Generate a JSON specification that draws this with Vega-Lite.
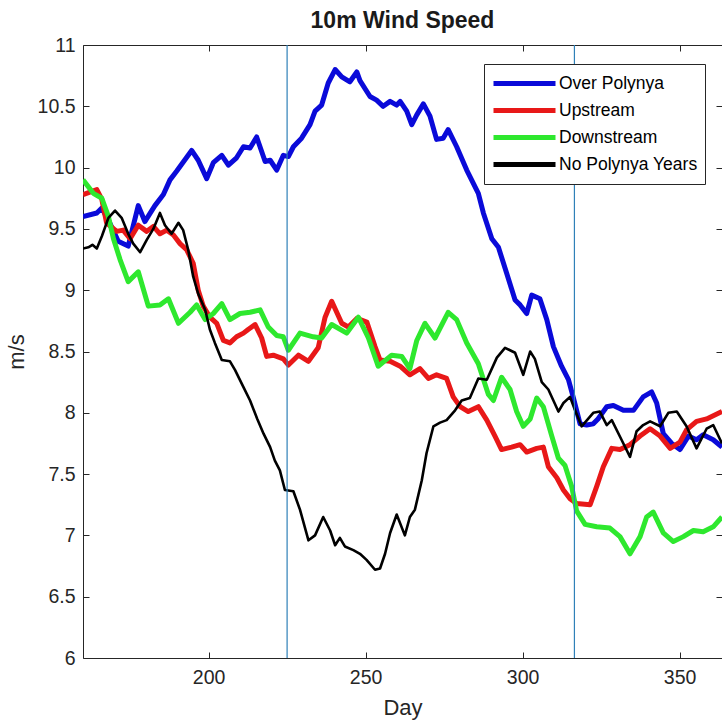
{
  "$schema": "https://vega.github.io/schema/vega-lite/v6.json",
  "autosize": {"type": "none"},
  "padding": {"left": 83, "top": 45, "right": 0, "bottom": 67},
  "width": 639,
  "height": 613,
  "background": "white",
  "title": {"text": "10m Wind Speed", "font": "Liberation Sans", "fontSize": 23, "fontWeight": "bold", "color": "#1a1a1a", "offset": 2, "anchor": "middle"},
  "config": {
    "view": {"stroke": null},
    "axis": {"labelFont": "Liberation Sans", "labelFontSize": 19.5, "labelColor": "#262626", "titleFont": "Liberation Sans", "titleFontSize": 22, "titleFontWeight": "normal", "titleColor": "#262626", "domainColor": "#262626", "tickColor": "#262626", "grid": false, "tickSize": -6, "domainWidth": 1, "tickWidth": 1}
  },
  "layer": [
    {
      "data": {"values": [
{"s":"Over Polynya","d":160,"v":9.60},{"s":"Over Polynya","d":164.4,"v":9.63},{"s":"Over Polynya","d":166,"v":9.67},{"s":"Over Polynya","d":168.5,"v":9.55},{"s":"Over Polynya","d":171.2,"v":9.40},{"s":"Over Polynya","d":174.4,"v":9.36},{"s":"Over Polynya","d":177.6,"v":9.69},{"s":"Over Polynya","d":179.7,"v":9.56},{"s":"Over Polynya","d":182.9,"v":9.69},{"s":"Over Polynya","d":185.6,"v":9.78},{"s":"Over Polynya","d":187.7,"v":9.90},{"s":"Over Polynya","d":189.8,"v":9.97},{"s":"Over Polynya","d":194.6,"v":10.14},{"s":"Over Polynya","d":196.7,"v":10.06},{"s":"Over Polynya","d":199.4,"v":9.91},{"s":"Over Polynya","d":201.5,"v":10.04},{"s":"Over Polynya","d":204.2,"v":10.10},{"s":"Over Polynya","d":206.3,"v":10.02},{"s":"Over Polynya","d":208.9,"v":10.08},{"s":"Over Polynya","d":211.1,"v":10.17},{"s":"Over Polynya","d":213.2,"v":10.16},{"s":"Over Polynya","d":215.3,"v":10.25},{"s":"Over Polynya","d":218,"v":10.05},{"s":"Over Polynya","d":219.6,"v":10.06},{"s":"Over Polynya","d":221.7,"v":9.98},{"s":"Over Polynya","d":223.8,"v":10.10},{"s":"Over Polynya","d":225.4,"v":10.09},{"s":"Over Polynya","d":227,"v":10.17},{"s":"Over Polynya","d":229.6,"v":10.24},{"s":"Over Polynya","d":232.3,"v":10.35},{"s":"Over Polynya","d":233.9,"v":10.46},{"s":"Over Polynya","d":236,"v":10.51},{"s":"Over Polynya","d":238.1,"v":10.69},{"s":"Over Polynya","d":240.3,"v":10.80},{"s":"Over Polynya","d":242.4,"v":10.74},{"s":"Over Polynya","d":245,"v":10.70},{"s":"Over Polynya","d":247.2,"v":10.78},{"s":"Over Polynya","d":248.2,"v":10.71},{"s":"Over Polynya","d":251.4,"v":10.58},{"s":"Over Polynya","d":253.5,"v":10.55},{"s":"Over Polynya","d":255.6,"v":10.50},{"s":"Over Polynya","d":257.8,"v":10.54},{"s":"Over Polynya","d":259.9,"v":10.51},{"s":"Over Polynya","d":261,"v":10.54},{"s":"Over Polynya","d":263.1,"v":10.46},{"s":"Over Polynya","d":264.7,"v":10.35},{"s":"Over Polynya","d":266.3,"v":10.43},{"s":"Over Polynya","d":268.4,"v":10.52},{"s":"Over Polynya","d":270.5,"v":10.42},{"s":"Over Polynya","d":272.6,"v":10.23},{"s":"Over Polynya","d":274.7,"v":10.24},{"s":"Over Polynya","d":276.3,"v":10.31},{"s":"Over Polynya","d":279,"v":10.17},{"s":"Over Polynya","d":282.2,"v":9.98},{"s":"Over Polynya","d":285.9,"v":9.79},{"s":"Over Polynya","d":287.5,"v":9.63},{"s":"Over Polynya","d":290.2,"v":9.42},{"s":"Over Polynya","d":292.3,"v":9.35},{"s":"Over Polynya","d":294.9,"v":9.14},{"s":"Over Polynya","d":297.6,"v":8.92},{"s":"Over Polynya","d":299.2,"v":8.88},{"s":"Over Polynya","d":301.3,"v":8.81},{"s":"Over Polynya","d":302.9,"v":8.96},{"s":"Over Polynya","d":305.5,"v":8.93},{"s":"Over Polynya","d":307.7,"v":8.76},{"s":"Over Polynya","d":309.8,"v":8.54},{"s":"Over Polynya","d":312.4,"v":8.38},{"s":"Over Polynya","d":314.6,"v":8.27},{"s":"Over Polynya","d":316.2,"v":8.12},{"s":"Over Polynya","d":318.3,"v":7.91},{"s":"Over Polynya","d":320.4,"v":7.90},{"s":"Over Polynya","d":322.5,"v":7.91},{"s":"Over Polynya","d":324,"v":7.95},{"s":"Over Polynya","d":326.8,"v":8.05},{"s":"Over Polynya","d":328.9,"v":8.06},{"s":"Over Polynya","d":332.1,"v":8.02},{"s":"Over Polynya","d":335.3,"v":8.02},{"s":"Over Polynya","d":338.4,"v":8.13},{"s":"Over Polynya","d":341.1,"v":8.17},{"s":"Over Polynya","d":342.7,"v":8.08},{"s":"Over Polynya","d":344.8,"v":7.83},{"s":"Over Polynya","d":347.5,"v":7.75},{"s":"Over Polynya","d":350.1,"v":7.70},{"s":"Over Polynya","d":352.8,"v":7.81},{"s":"Over Polynya","d":355.4,"v":7.78},{"s":"Over Polynya","d":357.5,"v":7.82},{"s":"Over Polynya","d":360.7,"v":7.78},{"s":"Over Polynya","d":363.5,"v":7.72},
{"s":"Upstream","d":160,"v":9.78},{"s":"Upstream","d":164.4,"v":9.82},{"s":"Upstream","d":166,"v":9.74},{"s":"Upstream","d":167.5,"v":9.55},{"s":"Upstream","d":170.7,"v":9.48},{"s":"Upstream","d":172.8,"v":9.49},{"s":"Upstream","d":175,"v":9.42},{"s":"Upstream","d":177.6,"v":9.53},{"s":"Upstream","d":180.3,"v":9.48},{"s":"Upstream","d":182.4,"v":9.52},{"s":"Upstream","d":184.5,"v":9.46},{"s":"Upstream","d":186.7,"v":9.49},{"s":"Upstream","d":188.8,"v":9.45},{"s":"Upstream","d":190.9,"v":9.38},{"s":"Upstream","d":193,"v":9.33},{"s":"Upstream","d":195.1,"v":9.22},{"s":"Upstream","d":196.7,"v":9.00},{"s":"Upstream","d":198.3,"v":8.87},{"s":"Upstream","d":200.4,"v":8.78},{"s":"Upstream","d":202.6,"v":8.73},{"s":"Upstream","d":204.7,"v":8.59},{"s":"Upstream","d":206.8,"v":8.57},{"s":"Upstream","d":208.9,"v":8.62},{"s":"Upstream","d":211.1,"v":8.65},{"s":"Upstream","d":212.6,"v":8.68},{"s":"Upstream","d":214.8,"v":8.72},{"s":"Upstream","d":216.9,"v":8.61},{"s":"Upstream","d":218.5,"v":8.46},{"s":"Upstream","d":220.6,"v":8.47},{"s":"Upstream","d":223.8,"v":8.44},{"s":"Upstream","d":225.4,"v":8.39},{"s":"Upstream","d":228.6,"v":8.47},{"s":"Upstream","d":231.8,"v":8.42},{"s":"Upstream","d":234.9,"v":8.53},{"s":"Upstream","d":237.1,"v":8.78},{"s":"Upstream","d":239.2,"v":8.91},{"s":"Upstream","d":242.4,"v":8.73},{"s":"Upstream","d":244.5,"v":8.70},{"s":"Upstream","d":247.2,"v":8.77},{"s":"Upstream","d":250.4,"v":8.74},{"s":"Upstream","d":253,"v":8.54},{"s":"Upstream","d":254.6,"v":8.43},{"s":"Upstream","d":257.8,"v":8.42},{"s":"Upstream","d":261,"v":8.38},{"s":"Upstream","d":264.1,"v":8.31},{"s":"Upstream","d":267.3,"v":8.36},{"s":"Upstream","d":270,"v":8.28},{"s":"Upstream","d":272.6,"v":8.31},{"s":"Upstream","d":275.8,"v":8.28},{"s":"Upstream","d":277.9,"v":8.13},{"s":"Upstream","d":280.1,"v":8.05},{"s":"Upstream","d":282.7,"v":8.01},{"s":"Upstream","d":285.9,"v":8.05},{"s":"Upstream","d":288.6,"v":7.94},{"s":"Upstream","d":291.2,"v":7.81},{"s":"Upstream","d":293.3,"v":7.70},{"s":"Upstream","d":296.5,"v":7.72},{"s":"Upstream","d":299.2,"v":7.74},{"s":"Upstream","d":301.3,"v":7.68},{"s":"Upstream","d":304.5,"v":7.71},{"s":"Upstream","d":306.6,"v":7.72},{"s":"Upstream","d":308.2,"v":7.56},{"s":"Upstream","d":310.9,"v":7.47},{"s":"Upstream","d":313,"v":7.37},{"s":"Upstream","d":315.1,"v":7.30},{"s":"Upstream","d":317.2,"v":7.26},{"s":"Upstream","d":321.5,"v":7.25},{"s":"Upstream","d":323.6,"v":7.40},{"s":"Upstream","d":325.7,"v":7.56},{"s":"Upstream","d":328.4,"v":7.71},{"s":"Upstream","d":331,"v":7.70},{"s":"Upstream","d":334.2,"v":7.74},{"s":"Upstream","d":337.4,"v":7.81},{"s":"Upstream","d":340.6,"v":7.87},{"s":"Upstream","d":343.8,"v":7.81},{"s":"Upstream","d":347,"v":7.71},{"s":"Upstream","d":350.1,"v":7.76},{"s":"Upstream","d":352.2,"v":7.86},{"s":"Upstream","d":355.4,"v":7.93},{"s":"Upstream","d":358.6,"v":7.95},{"s":"Upstream","d":363.5,"v":8.01},
{"s":"Downstream","d":160,"v":9.90},{"s":"Downstream","d":163.3,"v":9.79},{"s":"Downstream","d":166,"v":9.75},{"s":"Downstream","d":168.1,"v":9.60},{"s":"Downstream","d":169.7,"v":9.42},{"s":"Downstream","d":171.8,"v":9.25},{"s":"Downstream","d":174.4,"v":9.07},{"s":"Downstream","d":177.6,"v":9.15},{"s":"Downstream","d":180.8,"v":8.87},{"s":"Downstream","d":184.5,"v":8.88},{"s":"Downstream","d":187.2,"v":8.93},{"s":"Downstream","d":190.4,"v":8.73},{"s":"Downstream","d":194.1,"v":8.82},{"s":"Downstream","d":196.2,"v":8.88},{"s":"Downstream","d":198.9,"v":8.76},{"s":"Downstream","d":201.5,"v":8.81},{"s":"Downstream","d":204.2,"v":8.89},{"s":"Downstream","d":206.8,"v":8.76},{"s":"Downstream","d":210,"v":8.81},{"s":"Downstream","d":213.2,"v":8.82},{"s":"Downstream","d":216.4,"v":8.84},{"s":"Downstream","d":219,"v":8.70},{"s":"Downstream","d":221.7,"v":8.63},{"s":"Downstream","d":223.8,"v":8.62},{"s":"Downstream","d":225.4,"v":8.51},{"s":"Downstream","d":229.1,"v":8.65},{"s":"Downstream","d":233.3,"v":8.62},{"s":"Downstream","d":236,"v":8.61},{"s":"Downstream","d":239.2,"v":8.72},{"s":"Downstream","d":244,"v":8.65},{"s":"Downstream","d":247.7,"v":8.78},{"s":"Downstream","d":250.9,"v":8.61},{"s":"Downstream","d":254,"v":8.38},{"s":"Downstream","d":258.3,"v":8.47},{"s":"Downstream","d":261.5,"v":8.46},{"s":"Downstream","d":264.1,"v":8.36},{"s":"Downstream","d":266.3,"v":8.59},{"s":"Downstream","d":268.9,"v":8.73},{"s":"Downstream","d":272.1,"v":8.61},{"s":"Downstream","d":276.3,"v":8.82},{"s":"Downstream","d":279,"v":8.76},{"s":"Downstream","d":282.2,"v":8.57},{"s":"Downstream","d":285.9,"v":8.40},{"s":"Downstream","d":289.1,"v":8.15},{"s":"Downstream","d":290.7,"v":8.10},{"s":"Downstream","d":293.3,"v":8.29},{"s":"Downstream","d":296,"v":8.19},{"s":"Downstream","d":298.1,"v":8.01},{"s":"Downstream","d":300.2,"v":7.89},{"s":"Downstream","d":302.4,"v":7.95},{"s":"Downstream","d":304.5,"v":8.12},{"s":"Downstream","d":306.6,"v":8.05},{"s":"Downstream","d":309.3,"v":7.81},{"s":"Downstream","d":311.4,"v":7.63},{"s":"Downstream","d":313.5,"v":7.57},{"s":"Downstream","d":315.6,"v":7.40},{"s":"Downstream","d":317.2,"v":7.20},{"s":"Downstream","d":319.9,"v":7.09},{"s":"Downstream","d":323.6,"v":7.07},{"s":"Downstream","d":327.8,"v":7.06},{"s":"Downstream","d":331,"v":6.99},{"s":"Downstream","d":334.2,"v":6.85},{"s":"Downstream","d":337.4,"v":6.99},{"s":"Downstream","d":339.5,"v":7.15},{"s":"Downstream","d":341.6,"v":7.19},{"s":"Downstream","d":344.8,"v":7.02},{"s":"Downstream","d":348,"v":6.95},{"s":"Downstream","d":351.2,"v":6.99},{"s":"Downstream","d":354.4,"v":7.04},{"s":"Downstream","d":357.5,"v":7.03},{"s":"Downstream","d":360.7,"v":7.07},{"s":"Downstream","d":363.5,"v":7.15},
{"s":"No Polynya Years","d":160,"v":9.34},{"s":"No Polynya Years","d":161.7,"v":9.35},{"s":"No Polynya Years","d":163,"v":9.37},{"s":"No Polynya Years","d":164.4,"v":9.34},{"s":"No Polynya Years","d":166,"v":9.44},{"s":"No Polynya Years","d":168.1,"v":9.59},{"s":"No Polynya Years","d":170.2,"v":9.65},{"s":"No Polynya Years","d":172.3,"v":9.59},{"s":"No Polynya Years","d":174.4,"v":9.46},{"s":"No Polynya Years","d":176,"v":9.38},{"s":"No Polynya Years","d":178.2,"v":9.31},{"s":"No Polynya Years","d":180.3,"v":9.41},{"s":"No Polynya Years","d":182.4,"v":9.50},{"s":"No Polynya Years","d":184.5,"v":9.63},{"s":"No Polynya Years","d":186.1,"v":9.53},{"s":"No Polynya Years","d":188.2,"v":9.46},{"s":"No Polynya Years","d":190.4,"v":9.55},{"s":"No Polynya Years","d":191.9,"v":9.49},{"s":"No Polynya Years","d":193.5,"v":9.33},{"s":"No Polynya Years","d":195.1,"v":9.11},{"s":"No Polynya Years","d":196.7,"v":8.97},{"s":"No Polynya Years","d":198.9,"v":8.84},{"s":"No Polynya Years","d":200.4,"v":8.68},{"s":"No Polynya Years","d":202,"v":8.57},{"s":"No Polynya Years","d":204.2,"v":8.43},{"s":"No Polynya Years","d":206.8,"v":8.42},{"s":"No Polynya Years","d":208.4,"v":8.35},{"s":"No Polynya Years","d":211.1,"v":8.21},{"s":"No Polynya Years","d":213.2,"v":8.10},{"s":"No Polynya Years","d":215.5,"v":7.95},{"s":"No Polynya Years","d":217.5,"v":7.83},{"s":"No Polynya Years","d":219.6,"v":7.72},{"s":"No Polynya Years","d":221.1,"v":7.61},{"s":"No Polynya Years","d":222.7,"v":7.53},{"s":"No Polynya Years","d":224.3,"v":7.37},{"s":"No Polynya Years","d":227,"v":7.36},{"s":"No Polynya Years","d":229.1,"v":7.21},{"s":"No Polynya Years","d":231.8,"v":6.96},{"s":"No Polynya Years","d":233.9,"v":7.00},{"s":"No Polynya Years","d":236.5,"v":7.15},{"s":"No Polynya Years","d":238.7,"v":7.04},{"s":"No Polynya Years","d":240.3,"v":6.92},{"s":"No Polynya Years","d":241.8,"v":6.98},{"s":"No Polynya Years","d":243.4,"v":6.91},{"s":"No Polynya Years","d":246.1,"v":6.88},{"s":"No Polynya Years","d":248.2,"v":6.85},{"s":"No Polynya Years","d":250.3,"v":6.80},{"s":"No Polynya Years","d":253,"v":6.72},{"s":"No Polynya Years","d":254.6,"v":6.73},{"s":"No Polynya Years","d":256.2,"v":6.85},{"s":"No Polynya Years","d":257.8,"v":7.02},{"s":"No Polynya Years","d":259.9,"v":7.17},{"s":"No Polynya Years","d":262.5,"v":7.00},{"s":"No Polynya Years","d":264.1,"v":7.15},{"s":"No Polynya Years","d":265.7,"v":7.21},{"s":"No Polynya Years","d":267.9,"v":7.45},{"s":"No Polynya Years","d":269.4,"v":7.67},{"s":"No Polynya Years","d":271.6,"v":7.89},{"s":"No Polynya Years","d":273.7,"v":7.92},{"s":"No Polynya Years","d":275.8,"v":7.94},{"s":"No Polynya Years","d":278.5,"v":8.02},{"s":"No Polynya Years","d":280.6,"v":8.10},{"s":"No Polynya Years","d":283.2,"v":8.12},{"s":"No Polynya Years","d":285.9,"v":8.28},{"s":"No Polynya Years","d":288.6,"v":8.27},{"s":"No Polynya Years","d":291.8,"v":8.45},{"s":"No Polynya Years","d":294.4,"v":8.53},{"s":"No Polynya Years","d":297.6,"v":8.49},{"s":"No Polynya Years","d":299.2,"v":8.38},{"s":"No Polynya Years","d":300.2,"v":8.31},{"s":"No Polynya Years","d":302.4,"v":8.50},{"s":"No Polynya Years","d":303.9,"v":8.44},{"s":"No Polynya Years","d":306.1,"v":8.25},{"s":"No Polynya Years","d":308.2,"v":8.19},{"s":"No Polynya Years","d":311.4,"v":8.01},{"s":"No Polynya Years","d":313,"v":8.08},{"s":"No Polynya Years","d":315.1,"v":8.13},{"s":"No Polynya Years","d":316.7,"v":8.02},{"s":"No Polynya Years","d":318.8,"v":7.89},{"s":"No Polynya Years","d":322.5,"v":8.00},{"s":"No Polynya Years","d":324.6,"v":8.01},{"s":"No Polynya Years","d":326.8,"v":7.90},{"s":"No Polynya Years","d":328.4,"v":7.94},{"s":"No Polynya Years","d":331.5,"v":7.78},{"s":"No Polynya Years","d":334.2,"v":7.64},{"s":"No Polynya Years","d":336.3,"v":7.85},{"s":"No Polynya Years","d":338.4,"v":7.90},{"s":"No Polynya Years","d":340.6,"v":7.93},{"s":"No Polynya Years","d":343.8,"v":7.89},{"s":"No Polynya Years","d":346.4,"v":8.00},{"s":"No Polynya Years","d":349.1,"v":8.01},{"s":"No Polynya Years","d":352.2,"v":7.89},{"s":"No Polynya Years","d":355.4,"v":7.71},{"s":"No Polynya Years","d":358.6,"v":7.87},{"s":"No Polynya Years","d":360.7,"v":7.90},{"s":"No Polynya Years","d":363.5,"v":7.75}
      ]},
      "mark": {"type": "line", "clip": true, "strokeJoin": "round"},
      "encoding": {
        "x": {"field": "d", "type": "quantitative", "scale": {"domain": [160, 363.5], "nice": false, "zero": false}, "axis": {"orient": "bottom", "values": [200, 250, 300, 350], "title": "Day", "labelPadding": 16, "titlePadding": 11}},
        "y": {"field": "v", "type": "quantitative", "scale": {"domain": [6, 11], "nice": false, "zero": false}, "axis": {"orient": "left", "values": [6, 6.5, 7, 7.5, 8, 8.5, 9, 9.5, 10, 10.5, 11], "format": "~g", "title": "m/s", "labelPadding": 14, "titlePadding": 9}},
        "color": {"field": "s", "type": "nominal", "scale": {"domain": ["Over Polynya", "Upstream", "Downstream", "No Polynya Years"], "range": ["#0a0ad9", "#e81818", "#2ee82e", "#000000"]},
          "legend": {"title": null, "orient": "none", "legendX": 401, "legendY": 19, "symbolType": "stroke", "symbolSize": 3844, "symbolStrokeWidth": 5, "clipHeight": 25, "padding": 7, "labelFont": "Liberation Sans", "labelFontSize": 17.5, "labelColor": "#000000", "labelOffset": 1, "strokeColor": "#262626", "fillColor": "white", "labelLimit": 400}},
        "strokeWidth": {"condition": {"test": "datum.s === 'No Polynya Years'", "value": 2.6}, "value": 5}
      }
    },
    {
      "data": {"values": [{"d": 225}, {"d": 316.5}]},
      "mark": {"type": "rule", "color": "#2f80b8", "strokeWidth": 1.2},
      "encoding": {
        "x": {"field": "d", "type": "quantitative", "scale": {"domain": [160, 363.5], "nice": false, "zero": false}, "axis": {"orient": "top", "values": [200, 250, 300, 350], "labels": false, "title": null}},
        "y": {"datum": 6, "type": "quantitative", "axis": {"orient": "right", "values": [6, 6.5, 7, 7.5, 8, 8.5, 9, 9.5, 10, 10.5, 11], "labels": false, "title": null, "domain": false}},
        "y2": {"datum": 11}
      }
    }
  ],
  "resolve": {"axis": {"x": "independent", "y": "independent"}}
}
